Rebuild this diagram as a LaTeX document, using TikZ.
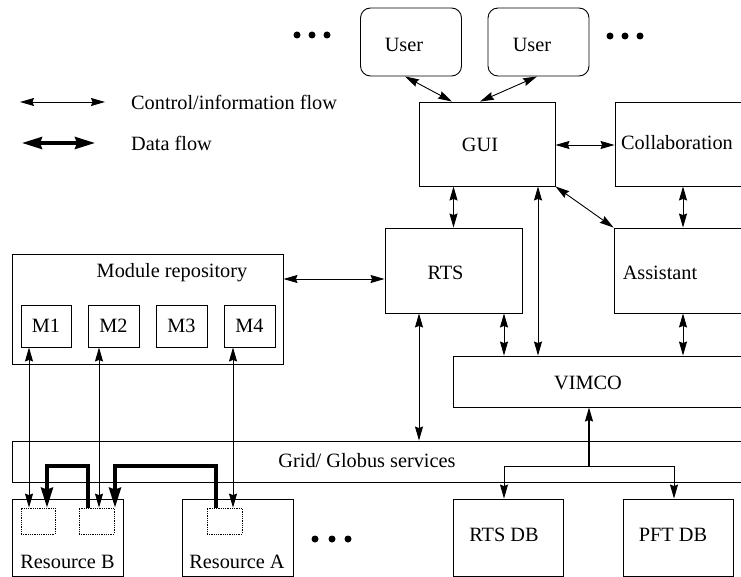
\documentclass[tikz,border=0pt]{standalone}
\usepackage{fontspec}
\setmainfont{Liberation Serif}
\usetikzlibrary{arrows.meta,calc}
\begin{document}
\begin{tikzpicture}[x=1pt,y=-1pt,
  every node/.style={font=\fontsize{20.3}{24}\selectfont},
  box/.style={draw,line width=0.9pt,rectangle,inner sep=0pt},
  userbox/.style={box,rounded corners=10pt,minimum width=101pt,minimum height=68pt},
  dotbox/.style={draw,densely dotted,line width=0.8pt,inner sep=0pt,minimum height=26pt},
  lbl/.style={inner sep=0pt},
  ctl/.style={line width=0.9pt,{Stealth[length=14pt,width=8pt,inset=1.5pt]}-{Stealth[length=14pt,width=8pt,inset=1.5pt]}},
  ctlone/.style={line width=0.9pt,-{Stealth[length=14pt,width=8pt,inset=1.5pt]}},
  ctlback/.style={line width=1.3pt,{Stealth[length=14pt,width=8pt,inset=1.5pt]}-},
  data/.style={line width=3.5pt,-{Stealth[length=20pt,width=12pt,inset=2pt]}},
  databoth/.style={line width=3.5pt,{Stealth[length=20pt,width=12pt,inset=2pt]}-{Stealth[length=20pt,width=12pt,inset=2pt]}},
  dot/.style={fill=black}
]
\useasboundingbox (0,0) rectangle (741,577);
\clip (0,0) rectangle (741,577);

% users
\node[userbox] (user1) at (411,42) {};
\node[lbl] at (404,45) {User};
\node[userbox] (user2) at (538.5,42) {};
\node[lbl] at (532,45) {User};
\foreach \x in {297,312,327} \fill[dot] (\x,35) circle (3.5pt);
\foreach \x in {610,625,640} \fill[dot] (\x,36) circle (3.5pt);

% legend
\coordinate (lg1a) at (20,102); \coordinate (lg1b) at (105,102);
\coordinate (lg2a) at (22,143); \coordinate (lg2b) at (95,143);
\draw[ctl] (lg1a) -- (lg1b);
\draw[databoth] (lg2a) -- (lg2b);
\node[lbl,anchor=west] (lgt1) at (131,102) {Control/information flow};
\node[lbl,anchor=west] (lgt2) at (131,143) {Data flow};

% main boxes
\node[box,minimum width=136pt,minimum height=84pt] (gui) at (487,144) {};
\node[lbl] at (480,145) {GUI};
\node[box,minimum width=185pt,minimum height=84pt] (collab) at (707.5,144) {};
\node[lbl] at (677,143) {Collaboration};
\node[box,minimum width=137pt,minimum height=85pt] (rts) at (453.5,270.5) {};
\node[lbl] at (445.5,273) {RTS};
\node[box,minimum width=186pt,minimum height=85pt] (assist) at (707,270.5) {};
\node[lbl] at (660,273) {Assistant};
\node[box,minimum width=347pt,minimum height=51pt] (vimco) at (626.5,381.5) {};
\node[lbl] at (588,383) {VIMCO};
\node[box,minimum width=788pt,minimum height=41pt] (grid) at (406,461.5) {};
\node[lbl] at (367,461) {Grid/ Globus services};

% module repository
\node[box,minimum width=271pt,minimum height=110pt] (modrep) at (147.5,309) {};
\node[lbl] at (172,273) {Module repository};
\node[box,minimum width=50pt,minimum height=42pt] (m1) at (46,326) {M1};
\node[box,minimum width=51pt,minimum height=42pt] (m2) at (113.5,326) {M2};
\node[box,minimum width=51pt,minimum height=42pt] (m3) at (181.5,326) {M3};
\node[box,minimum width=51pt,minimum height=42pt] (m4) at (249.5,326) {M4};

% resources
\node[box,minimum width=111pt,minimum height=77pt] (resB) at (67.5,537.5) {};
\node[lbl] at (67.5,562) {Resource B};
\node[box,minimum width=111pt,minimum height=77pt] (resA) at (237.5,537.5) {};
\node[lbl] at (237,562) {Resource A};
\node[dotbox,minimum width=34pt] (b1) at (38,521) {};
\node[dotbox,minimum width=35pt] (b2) at (96.5,521) {};
\node[dotbox,minimum width=35pt] (a1) at (224.5,521) {};
\foreach \x in {315,332,348} \fill[dot] (\x,539) circle (3.5pt);

% databases
\node[box,minimum width=110pt,minimum height=77pt] (rtsdb) at (508,537.5) {};
\node[lbl] at (504,535) {RTS DB};
\node[box,minimum width=110pt,minimum height=77pt] (pftdb) at (678,537.5) {};
\node[lbl] at (673,535) {PFT DB};

% helper coordinates
\coordinate (xca) at (683,0);
\coordinate (xrv) at (504,0);
\coordinate (xrg) at (419,0);
\coordinate (xgv) at (538,0);
\coordinate (ymr) at (0,279);
\coordinate (xl1) at (29,0);
\coordinate (xl2) at (99,0);
\coordinate (xl4) at (233,0);
\coordinate (ybus) at (0,466);
\coordinate (xd1) at (88,0);
\coordinate (xd2) at (47,0);
\coordinate (xd3) at (216,0);
\coordinate (xd4) at (115,0);
\coordinate (xv) at (589,0);
\coordinate (xdb1) at (504,0);
\coordinate (xdb2) at (674,0);

% control connectors
\draw[ctl] ([xshift=-6pt]user1.south) -- ([xshift=-35pt]gui.north);
\draw[ctl] ([xshift=-1.5pt]user2.south) -- ([xshift=-7pt]gui.north);
\draw[ctl] ([yshift=-1pt]gui.east) -- ([yshift=-1pt]gui.east -| collab.west);
\draw[ctl] (rts.north) -- (rts.north |- gui.south);
\draw[ctl] (xgv |- gui.south) -- (xgv |- vimco.north);
\draw[ctl] (gui.south east) -- (assist.north west);
\draw[ctl] (xca |- collab.south) -- (xca |- assist.north);
\draw[ctl] (xca |- assist.south) -- (xca |- vimco.north);
\draw[ctl] (xrv |- rts.south) -- (xrv |- vimco.north);
\draw[ctl] (xrg |- rts.south) -- (xrg |- grid.north);
\draw[ctl] (modrep.east |- ymr) -- (rts.west |- ymr);
\draw[ctl] (xl1 |- m1.south) -- (xl1 |- b1.north);
\draw[ctl] (xl2 |- m2.south) -- (xl2 |- b2.north);
\draw[ctl] (xl4 |- m4.south) -- (xl4 |- a1.north);

% VIMCO to databases
\draw[ctlback] (xv |- vimco.south) -- (xv |- ybus);
\draw[ctlone] (xv |- ybus) -- (xdb1 |- ybus) -- (xdb1 |- rtsdb.north);
\draw[ctlone] (xv |- ybus) -- (xdb2 |- ybus) -- (xdb2 |- pftdb.north);

% data flows
\draw[data] (xd1 |- b2.north) -- (xd1 |- ybus) -- (xd2 |- ybus) -- (xd2 |- b1.north);
\draw[data] (xd3 |- a1.north) -- (xd3 |- ybus) -- (xd4 |- ybus) -- (xd4 |- b2.north);
\end{tikzpicture}
\end{document}
